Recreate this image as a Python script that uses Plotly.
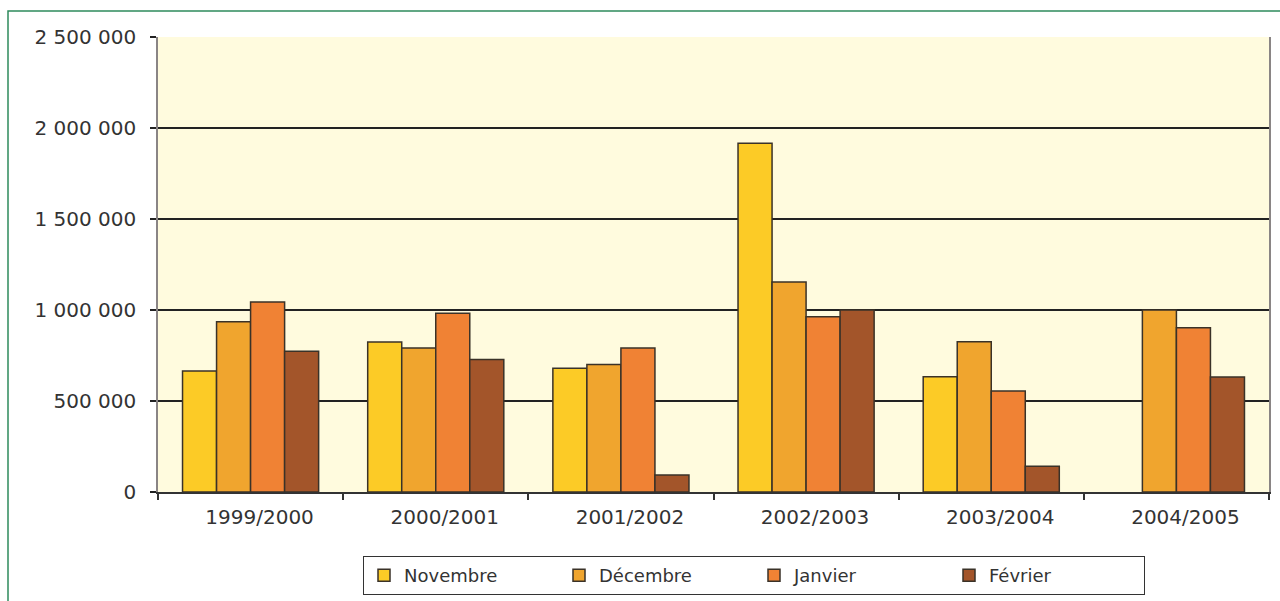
import plotly.graph_objects as go

seasons = ["1999/2000", "2000/2001", "2001/2002", "2002/2003", "2003/2004", "2004/2005"]
novembre = [665000, 824000, 680000, 1916000, 633000, None]
decembre = [935000, 791000, 701000, 1154000, 825000, 1000000]
janvier = [1044000, 982000, 791000, 963000, 555000, 902000]
fevrier = [774000, 728000, 93000, 1000000, 142000, 632000]

series_names = ["Novembre", "Décembre", "Janvier", "Février"]
series_values = [novembre, decembre, janvier, fevrier]
series_colors = ["#FCCB26", "#F0A52E", "#F08234", "#A3552A"]

y_tick_vals = [0, 500000, 1000000, 1500000, 2000000, 2500000]
y_tick_text = ["0", "500 000", "1 000 000", "1 500 000", "2 000 000", "2 500 000"]

FONT = "DejaVu Sans"
TXT = "#333333"

fig = go.Figure()
for name, vals, col in zip(series_names, series_values, series_colors):
    fig.add_trace(go.Bar(
        x=seasons, y=vals, name=name,
        marker=dict(color=col, line=dict(color="#3a3228", width=1.5)),
    ))

L, R, T, B = 158, 11, 37, 109
W, H = 1280, 601
pw, ph = W - L - R, H - T - B

fig.update_layout(
    width=W, height=H,
    margin=dict(l=L, r=R, t=T, b=B, autoexpand=False),
    paper_bgcolor="white",
    plot_bgcolor="#FFFBDE",
    barmode="group",
    bargap=0.265,
    bargroupgap=0,
    font=dict(family=FONT, color=TXT, size=18),
    showlegend=True,
    legend=dict(
        orientation="h",
        x=(363 - L) / pw, xanchor="left",
        y=(492 - 556) / ph, yanchor="top",
        bgcolor="white",
        bordercolor="#333333", borderwidth=1,
        font=dict(family=FONT, size=18, color=TXT),
        entrywidth=150, entrywidthmode="pixels",
        traceorder="normal",
    ),
    shapes=[dict(
        type="rect", xref="paper", yref="paper",
        x0=(8 - L) / pw, x1=(1290 - L) / pw,
        y0=(492 - 610) / ph, y1=(492 - 11) / ph,
        line=dict(color="#2E8B5C", width=1.5),
        fillcolor="rgba(0,0,0,0)", layer="below",
    )],
)

fig.update_xaxes(
    type="category",
    showline=True, linecolor="#333333", linewidth=1.5,
    ticks="outside", tickson="boundaries", ticklen=6, tickcolor="#333333", tickwidth=1.5,
    showgrid=False,
    tickfont=dict(family=FONT, size=20, color=TXT),
    ticklabelstandoff=6,
    ticklabelshift=9,
)
fig.update_yaxes(
    range=[0, 2500000],
    tickvals=y_tick_vals, ticktext=y_tick_text,
    showline=True, linecolor="#8a8585", linewidth=1.5, mirror=True,
    ticks="outside", ticklen=6, tickcolor="#222222", tickwidth=1.5,
    showgrid=True, gridcolor="#222222", gridwidth=1.5,
    zeroline=False,
    tickfont=dict(family=FONT, size=20, color=TXT),
    ticklabelstandoff=10,
)

fig.write_html("out.html")
